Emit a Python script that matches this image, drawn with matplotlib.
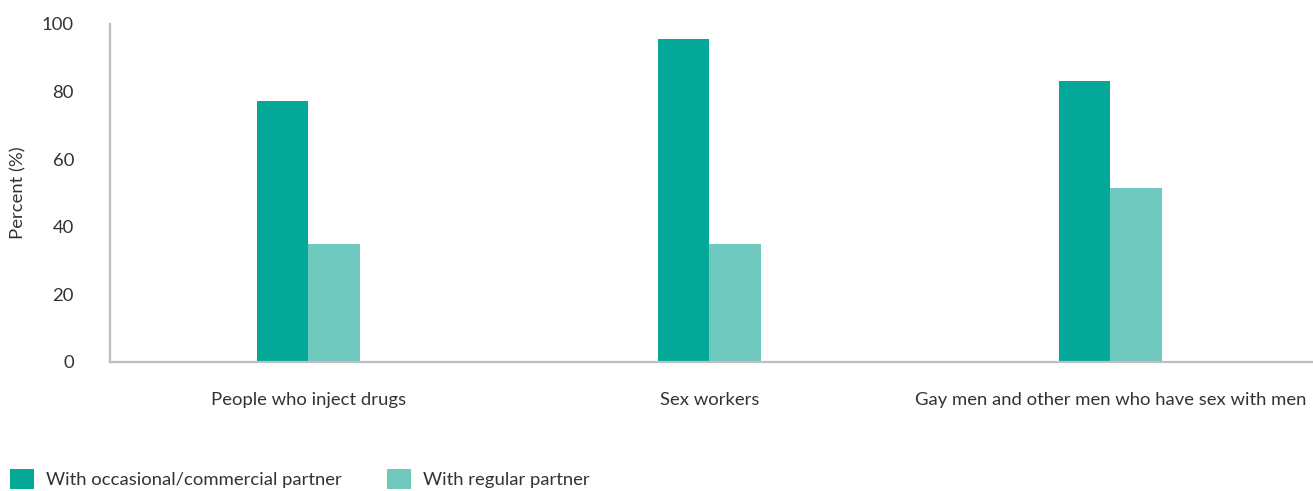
import matplotlib
matplotlib.use("Agg")
import matplotlib.pyplot as plt
import numpy as np

categories = ["People who inject drugs", "Sex workers", "Gay men and other men who have sex with men"]
series_names = ["With occasional/commercial partner", "With regular partner"]
occasional = [77.3, 95.5, 83.1]
regular = [34.9, 34.9, 51.3]
yticks = [0, 20, 40, 60, 80, 100]

colors = ["#03A899", "#70C9BF"]
text_color = "#333333"

plt.rcParams['font.family'] = ['Lato', 'DejaVu Sans']
fs = 13.3

W, H = 1313, 491
fig = plt.figure(figsize=(W / 100, H / 100), dpi=100)
ax = fig.add_axes([110 / W, 1 - 361.7 / H, (1313 - 110) / W, (361.7 - 24) / H])

x = np.arange(len(categories))
bw = 0.1275
ax.bar(x - bw / 2, occasional, width=bw, color=colors[0], label=series_names[0])
ax.bar(x + bw / 2, regular, width=bw, color=colors[1], label=series_names[1])

ax.set_xlim(-0.495, 2.505)
ax.set_ylim(0, 100)
ax.set_yticks(yticks)
ax.set_yticklabels([str(v) for v in yticks], fontsize=fs, color=text_color)
ax.set_xticks(x)
ax.set_xticklabels(categories, fontsize=fs, color=text_color)
ax.tick_params(axis='both', length=0)
ax.tick_params(axis='y', pad=26)
ax.tick_params(axis='x', pad=22)
ax.set_ylabel("Percent (%)", fontsize=fs, color=text_color)
ax.yaxis.set_label_coords((26 - 110) / 1203, 0.5)

for s in ['top', 'right']:
    ax.spines[s].set_visible(False)
for s in ['left', 'bottom']:
    ax.spines[s].set_color('#BFBFBF')
    ax.spines[s].set_linewidth(1.6)

handles, labels = ax.get_legend_handles_labels()
leg = fig.legend(handles, labels, loc='upper left', bbox_to_anchor=(10 / W, 1 - 469 / H),
                 ncol=2, frameon=False, fontsize=fs, handlelength=1.3, handleheight=1.3,
                 handletextpad=0.65, columnspacing=2.45, borderpad=0, borderaxespad=0)
for t in leg.get_texts():
    t.set_color(text_color)

fig.savefig("out.png", dpi=100)
